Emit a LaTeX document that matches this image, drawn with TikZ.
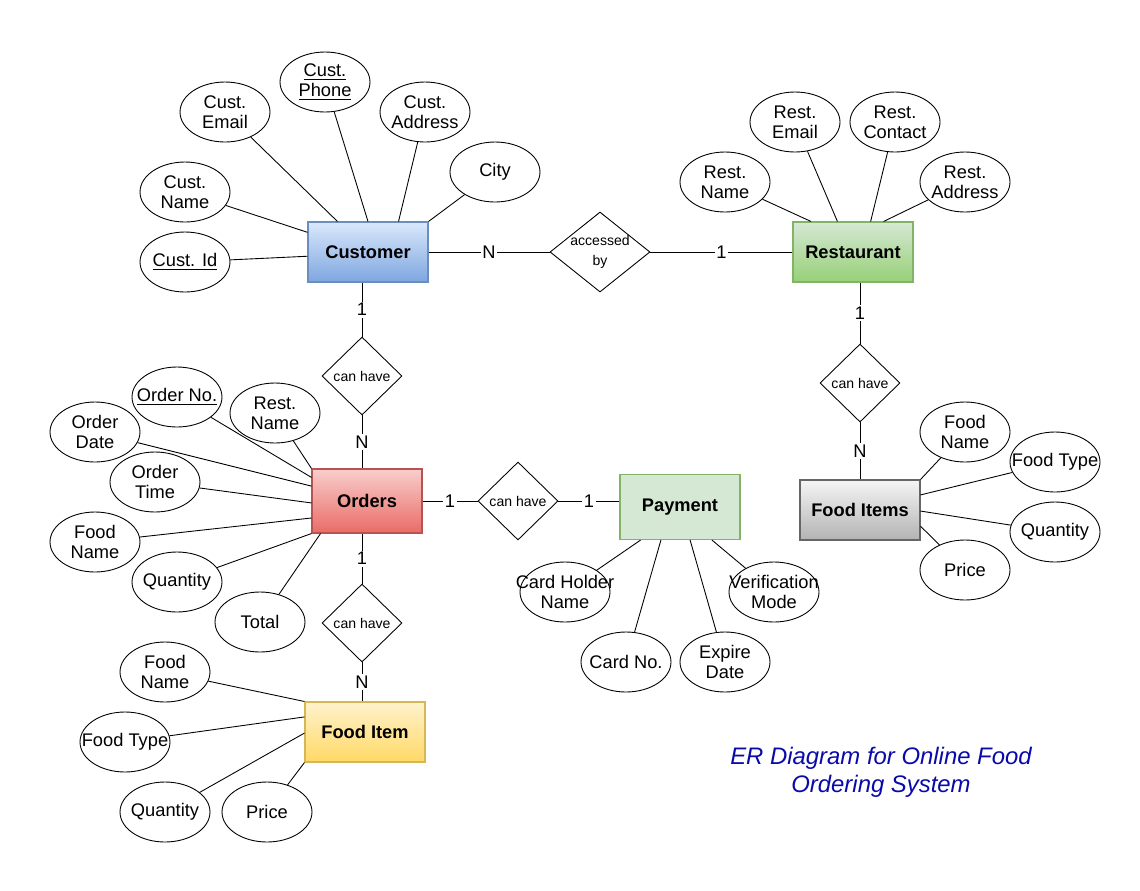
\documentclass[tikz,border=0pt]{standalone}
\usepackage{fontspec}
\setmainfont{Liberation Sans}
\usepackage{tikz}
\usetikzlibrary{shapes.geometric,positioning,calc}
\usepackage{xcolor}
\definecolor{custline}{HTML}{6C8EBF}
\definecolor{custtop}{HTML}{DAE8FC}
\definecolor{custbot}{HTML}{7EA6E0}
\definecolor{restline}{HTML}{82B366}
\definecolor{resttop}{HTML}{D5E8D4}
\definecolor{restbot}{HTML}{97D077}
\definecolor{ordline}{HTML}{B85450}
\definecolor{ordtop}{HTML}{F8CECC}
\definecolor{ordbot}{HTML}{EA6B66}
\definecolor{greyline}{HTML}{666666}
\definecolor{greytop}{HTML}{F5F5F5}
\definecolor{greybot}{HTML}{B3B3B3}
\definecolor{yelline}{HTML}{D6B656}
\definecolor{yeltop}{HTML}{FFF2CC}
\definecolor{yelbot}{HTML}{FFD966}
\definecolor{titleblue}{RGB}{10,10,170}

\begin{document}
\begin{tikzpicture}[
        x=0.02cm, y=-0.02cm,
        entity/.style={draw,rectangle,minimum width=2.4cm,minimum height=1.2cm,
                    inner sep=0pt,line width=0.6pt,font=\fontsize{10.4}{12.5}\selectfont\bfseries},
        attrtext/.style={align=center,inner sep=0pt,font=\fontsize{10.4}{11.3}\selectfont},
        attr/.style={draw,ellipse,minimum width=1.8cm,minimum height=1.2cm,inner sep=0pt,
                    line width=0.5pt,label={[attrtext]center:#1}},
        reltext/.style={align=center,inner sep=0pt,font=\fontsize{8}{11}\selectfont},
        rel/.style={draw,diamond,minimum width=1.6cm,minimum height=1.56cm,inner sep=0pt,
                    line width=0.5pt,label={[reltext]center:#1}},
        card/.style={fill=white,inner sep=1pt,font=\fontsize{10.4}{12}\selectfont},
        link/.style={line width=0.5pt}
    ]
        \fill[white] (0,0) rectangle (1140,890);
        \useasboundingbox (0,0) rectangle (1140,890);

        % Entities
        \node[entity,draw=custline,top color=custtop,bottom color=custbot] (cust) at (368,252) {Customer};
        \node[entity,draw=restline,top color=resttop,bottom color=restbot] (rest) at (853,252) {Restaurant};
        \node[entity,draw=ordline,top color=ordtop,bottom color=ordbot,
              minimum width=2.2cm,minimum height=1.28cm] (ord) at (367,501) {Orders};
        \node[entity,draw=restline,fill=resttop,minimum height=1.3cm] (pay) at (680,507) {Payment};
        \node[entity,draw=greyline,top color=greytop,bottom color=greybot] (fitems) at (860,510) {Food Items};
        \node[entity,draw=yelline,top color=yeltop,bottom color=yelbot] (fitem) at (365,732) {Food Item};

        % Relationships
        \node[rel={accessed\\by},minimum width=2cm,minimum height=1.6cm] (acc) at (600,252) {};
        \node[rel={can have}] (chco) at (362,376) {};
        \node[rel={can have}] (chop) at (518,501) {};
        \node[rel={can have}] (chrf) at (860,383) {};
        \node[rel={can have}] (chof) at (362,623) {};

        % Customer attributes
        \node[attr={Cust.\\Email}] (cemail) at (225,112) {};
        \node[attr={\underline{Cust.}\\\underline{Phone}}] (cphone) at (325,82) {};
        \node[attr={Cust.\\Address}] (caddr) at (425,112) {};
        \node[attr={City}] (ccity) at (495,172) {};
        \node[attr={Cust.\\Name}] (cname) at (185,192) {};
        \node[attr={\underline{Cust. Id}}] (cid) at (185,262) {};

        % Restaurant attributes
        \node[attr={Rest.\\Name}] (rname) at (725,182) {};
        \node[attr={Rest.\\Email}] (remail) at (795,122) {};
        \node[attr={Rest.\\Contact}] (rcontact) at (895,122) {};
        \node[attr={Rest.\\Address}] (raddr) at (965,182) {};

        % Orders attributes
        \node[attr={\underline{Order No.}}] (ono) at (177,397) {};
        \node[attr={Rest.\\Name}] (orname) at (275,413) {};
        \node[attr={Order\\Date}] (odate) at (95,432) {};
        \node[attr={Order\\Time}] (otime) at (155,482) {};
        \node[attr={Food\\Name}] (ofname) at (95,542) {};
        \node[attr={Quantity}] (oqty) at (177,582) {};
        \node[attr={Total}] (ototal) at (260,622) {};

        % Payment attributes
        \node[attr={Card Holder\\Name}] (pchn) at (565,592) {};
        \node[attr={Card No.}] (pcno) at (626,662) {};
        \node[attr={Expire\\Date}] (pexp) at (725,662) {};
        \node[attr={Verification\\Mode}] (pver) at (774,592) {};

        % Food Items attributes
        \node[attr={Food\\Name}] (fsname) at (965,432) {};
        \node[attr={Food Type}] (fstype) at (1055,462) {};
        \node[attr={Quantity}] (fsqty) at (1055,532) {};
        \node[attr={Price}] (fsprice) at (965,570) {};

        % Food Item attributes
        \node[attr={Food\\Name}] (finame) at (165,672) {};
        \node[attr={Food Type}] (fitype) at (125,742) {};
        \node[attr={Quantity}] (fiqty) at (165,812) {};
        \node[attr={Price}] (fiprice) at (267,812) {};

        % Title
        \node[align=center,text=titleblue,font=\fontsize{13.6}{15.9}\selectfont\itshape] (title) at (881,772)
            {ER Diagram for Online Food\\Ordering System};

        % Attribute links
        \draw[link] (cemail) -- (cust.135);
        \draw[link] (cphone) -- (cust.north);
        \draw[link] (caddr) -- (cust.45);
        \draw[link] (ccity) -- (cust.north east);
        \draw[link] (cname) -- (cust.162);
        \draw[link] (cid) -- (cust.184);
        \draw[link] (rname) -- (rest.144);
        \draw[link] (remail) -- (rest.117);
        \draw[link] (rcontact) -- (rest.60);
        \draw[link] (raddr) -- (rest.45);
        \draw[link] (ono) -- (ord.157);
        \draw[link] (orname) -- (ord.north west);
        \draw[link] (odate) -- (ord.165);
        \draw[link] (otime) -- (ord.182);
        \draw[link] (ofname) -- (ord.197);
        \draw[link] (oqty) -- (ord.south west);
        \draw[link] (ototal) -- (ord.215);
        \draw[link] (pchn) -- (pay.220);
        \draw[link] (pcno) -- (pay.240);
        \draw[link] (pexp) -- (pay.287);
        \draw[link] (pver) -- (pay.314);
        \draw[link] (fsname) -- (fitems.north east);
        \draw[link] (fstype) -- (fitems.14);
        \draw[link] (fsqty) -- (fitems.359);
        \draw[link] (fsprice) -- (fitems.345);
        \draw[link] (finame) -- (fitem.north west);
        \draw[link] (fitype) -- (fitem.166);
        \draw[link] (fiqty) -- (fitem.181);
        \draw[link] (fiprice) -- (fitem.south west);

        % Relationship links
        \draw[link] (cust) -- node[card] {N} (acc);
        \draw[link] (acc) -- node[card] {1} (rest);
        \draw[link] (cust.south -| chco) -- node[card] {1} (chco);
        \draw[link] (chco) -- node[card] {N} (chco |- ord.north);
        \draw[link] (rest.south -| chrf) -- node[card] {1} (chrf);
        \draw[link] (chrf) -- node[card] {N} (fitems);
        \draw[link] (ord) -- node[card] {1} (chop);
        \draw[link] (chop) -- node[card] {1} (chop -| pay.west);
        \draw[link] (ord.south -| chof) -- node[card] {1} (chof);
        \draw[link] (chof) -- node[card] {N} (chof |- fitem.north);
    \end{tikzpicture}
\end{document}
